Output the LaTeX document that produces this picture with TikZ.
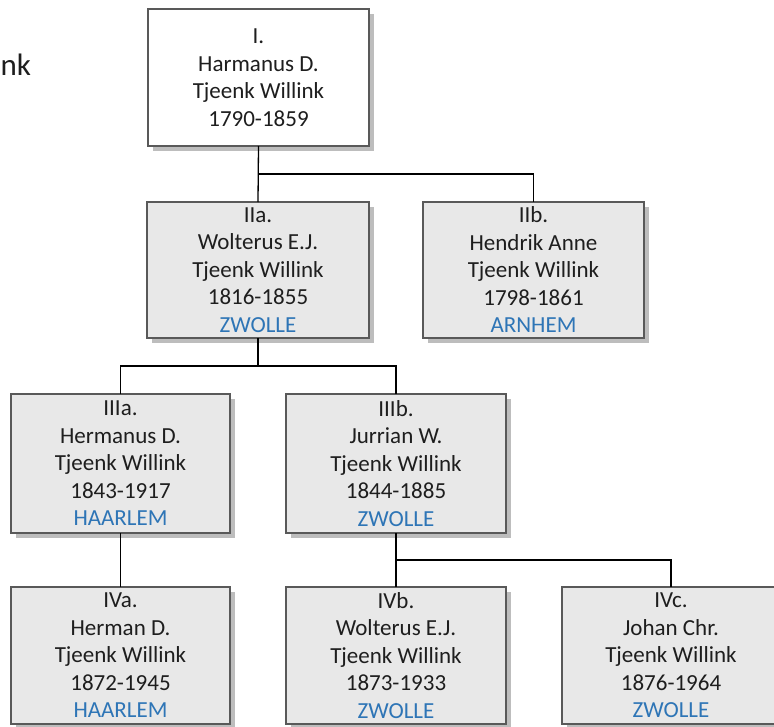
\documentclass[tikz,border=0pt]{standalone}
\usepackage{fontspec}
\setmainfont{Carlito}
\usetikzlibrary{shadows}
\definecolor{boxfill}{HTML}{E8E8E8}
\definecolor{boxline}{HTML}{595959}
\definecolor{shade}{HTML}{BDBDBD}
\definecolor{loc}{HTML}{2E75B6}
\definecolor{txt}{HTML}{1E1E1E}
\begin{document}
\begin{tikzpicture}[x=1pt,y=-1pt,
  person/.style={draw=boxline, line width=1.2pt, fill=boxfill, text=txt,
    align=center, inner sep=0pt, outer sep=0pt,
    font=\fontsize{23}{27.5}\selectfont,
    drop shadow={shadow xshift=5pt, shadow yshift=-5pt, fill=shade, opacity=1}},
  link/.style={draw=black, line width=1.3pt}]
\useasboundingbox[fill=white] (0,0) rectangle (774,726);

\node[anchor=base west, inner sep=0pt, text=txt, font=\fontsize{31}{36}\selectfont] (title) at (0.5,75) {nk};

\node[person, fill=white, minimum width=221pt, minimum height=137pt] (I) at (258.5,77.5)
  {I.\\Harmanus D.\\Tjeenk Willink\\1790-1859};
\node[person, minimum width=222pt, minimum height=136pt] (IIa) at (258,270)
  {IIa.\\Wolterus E.J.\\Tjeenk Willink\\1816-1855\\\textcolor{loc}{ZWOLLE}};
\node[person, minimum width=221pt, minimum height=136pt] (IIb) at (533.5,270)
  {IIb.\\Hendrik Anne\\Tjeenk Willink\\1798-1861\\\textcolor{loc}{ARNHEM}};
\node[person, minimum width=219pt, minimum height=139pt] (IIIa) at (120.5,463.5)
  {IIIa.\\Hermanus D.\\Tjeenk Willink\\1843-1917\\\textcolor{loc}{HAARLEM}};
\node[person, minimum width=220pt, minimum height=139pt] (IIIb) at (396,463.5)
  {IIIb.\\Jurrian W.\\Tjeenk Willink\\1844-1885\\\textcolor{loc}{ZWOLLE}};
\node[person, minimum width=219pt, minimum height=137pt] (IVa) at (120.5,655.5)
  {IVa.\\Herman D.\\Tjeenk Willink\\1872-1945\\\textcolor{loc}{HAARLEM}};
\node[person, minimum width=220pt, minimum height=137pt] (IVb) at (396,655.5)
  {IVb.\\Wolterus E.J.\\Tjeenk Willink\\1873-1933\\\textcolor{loc}{ZWOLLE}};
\node[person, minimum width=218pt, minimum height=137pt] (IVc) at (671,655.5)
  {IVc.\\Johan Chr.\\Tjeenk Willink\\1876-1964\\\textcolor{loc}{ZWOLLE}};

\draw[link] (I.south) -- (IIa.north);
\draw[link] (I.south) -- ++(0,28) -| (IIb.north);
\draw[link] (IIa.south) -- ++(0,28) coordinate (j2);
\draw[link] (IIIa.north) |- (j2) -| (IIIb.north);
\draw[link] (IIIa.south) -- (IVa.north);
\draw[link] (IIIb.south) -- (IVb.north);
\draw[link] (IIIb.south) -- ++(0,27) -| (IVc.north);
\end{tikzpicture}
\end{document}
